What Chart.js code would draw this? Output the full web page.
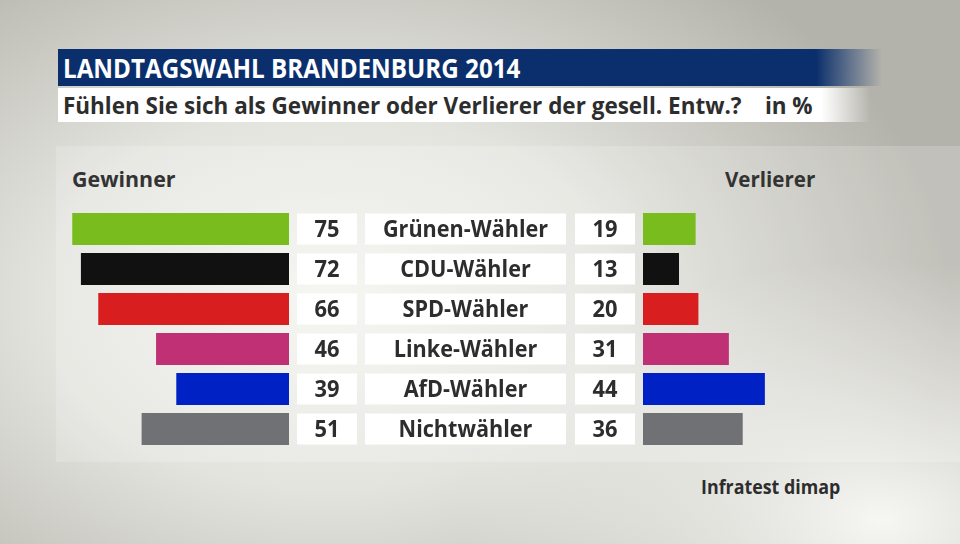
<!DOCTYPE html>
<html>
<head>
<meta charset="utf-8">
<script src="https://cdn.jsdelivr.net/npm/chart.js@4/dist/chart.umd.min.js"></script>
<style>
  html, body { margin: 0; padding: 0; }
  body {
    width: 960px; height: 544px; overflow: hidden; position: relative;
    font-family: "Open Sans", "Noto Sans", sans-serif;
    background:
      radial-gradient(ellipse 420px 260px at 880px 520px, rgba(250,250,247,0.95), rgba(250,250,247,0) 100%),
      radial-gradient(ellipse 620px 420px at 330px 300px, #f4f4f0 0%, #e4e4df 45%, #b4b3ab 100%);
    background-color: #b0afa7;
  }
  .panel {
    position: absolute; left: 56px; top: 146px; width: 904px; height: 316px;
    background: rgba(255,255,255,0.18);
  }
  .titlebar {
    position: absolute; left: 58px; top: 49px; width: 824px; height: 37px;
    background: linear-gradient(to right, #0b2f6c 0, #0b2f6c 92%, rgba(11,47,108,0) 100%);
  }
  .subbar {
    position: absolute; left: 58px; top: 88px; width: 812px; height: 34px;
    background: linear-gradient(to right, #fff 0, #fff 94%, rgba(255,255,255,0) 100%);
  }
  .txt { position: absolute; white-space: nowrap; transform-origin: 0 50%; }
  #title { left: 63px; top: 50px; line-height: 36px; font-size: 27px; font-weight: 700; color: #fff; }
  #subtitle { left: 63px; top: 88px; line-height: 34px; font-size: 24px; font-weight: 700; color: #2d2d2d; }
  #gew { left: 72px; top: 164px; line-height: 30px; font-size: 21px; font-weight: 700; color: #333; }
  #ver { left: 725px; top: 164px; line-height: 30px; font-size: 21px; font-weight: 700; color: #333; }
  #src { left: 701px; top: 474px; line-height: 26px; font-size: 19px; font-weight: 700; color: #2d2d2d; }
  canvas { position: absolute; left: 0; top: 0; pointer-events: none; }
</style>
</head>
<body>
<div class="panel"></div>
<div class="titlebar"></div>
<div class="subbar"></div>
<div class="txt" id="title">LANDTAGSWAHL BRANDENBURG 2014</div>
<div class="txt" id="subtitle">Fühlen Sie sich als Gewinner oder Verlierer der gesell. Entw.?&nbsp;&nbsp;&nbsp; in %</div>
<div class="txt" id="gew">Gewinner</div>
<div class="txt" id="ver">Verlierer</div>
<div class="txt" id="src">Infratest dimap</div>
<canvas id="leftChart" width="960" height="544"></canvas>
<canvas id="rightChart" width="960" height="544"></canvas>
<script>
const groups = ["Grünen-Wähler", "CDU-Wähler", "SPD-Wähler", "Linke-Wähler", "AfD-Wähler", "Nichtwähler"];
const gewinner = [75, 72, 66, 46, 39, 51];
const verlierer = [19, 13, 20, 31, 44, 36];
const partyColors = ["#79bc1e", "#111111", "#d81e1e", "#bf3075", "#0021c4", "#707174"];

// squeeze the condensed-looking texts to the widths seen in the original
function fitWidth(id, target) {
  const el = document.getElementById(id);
  el.style.transform = "scaleX(" + (target / el.offsetWidth) + ")";
}
fitWidth("title", 457);
fitWidth("subtitle", 750);
fitWidth("gew", 104);
fitWidth("ver", 90);
fitWidth("src", 139);

// white boxes with values and group names, placed next to the left bars
const labelBoxes = {
  id: "labelBoxes",
  afterDatasetsDraw(chart) {
    const ctx = chart.ctx;
    const yScale = chart.scales.y;
    const x0 = chart.chartArea.right;
    const boxH = 31;
    const boxes = [
      { from: 8, to: 68, texts: gewinner, size: 23, sx: 0.95 },
      { from: 76, to: 277, texts: groups, size: 23, sx: 0.94 },
      { from: 286, to: 346, texts: verlierer, size: 23, sx: 0.95 }
    ];
    ctx.save();
    groups.forEach((g, i) => {
      const cy = yScale.getPixelForValue(i);
      boxes.forEach(b => {
        ctx.fillStyle = "#ffffff";
        ctx.fillRect(x0 + b.from, cy - boxH / 2, b.to - b.from, boxH);
        ctx.save();
        ctx.translate(x0 + (b.from + b.to) / 2, cy + 1);
        ctx.scale(b.sx, 1);
        ctx.fillStyle = "#2d2d2d";
        ctx.font = "700 " + b.size + "px 'Open Sans', sans-serif";
        ctx.textAlign = "center";
        ctx.textBaseline = "middle";
        ctx.fillText(String(b.texts[i]), 0, 0);
        ctx.restore();
      });
    });
    ctx.restore();
  }
};

const common = {
  responsive: false,
  animation: false,
  indexAxis: "y",
  plugins: { legend: { display: false }, tooltip: { enabled: false } },
  events: []
};

new Chart(document.getElementById("leftChart"), {
  type: "bar",
  data: {
    labels: groups,
    datasets: [{
      data: gewinner,
      backgroundColor: partyColors,
      barPercentage: 0.8,
      categoryPercentage: 1.0
    }]
  },
  options: Object.assign({}, common, {
    layout: { padding: { left: 0, right: 671, top: 209, bottom: 95 } },
    scales: {
      x: { display: false, reverse: true, min: 0, max: 100 },
      y: { display: false }
    }
  }),
  plugins: [labelBoxes]
});

new Chart(document.getElementById("rightChart"), {
  type: "bar",
  data: {
    labels: groups,
    datasets: [{
      data: verlierer,
      backgroundColor: partyColors,
      barPercentage: 0.8,
      categoryPercentage: 1.0
    }]
  },
  options: Object.assign({}, common, {
    layout: { padding: { left: 643, right: 40, top: 209, bottom: 95 } },
    scales: {
      x: { display: false, min: 0, max: 100 },
      y: { display: false }
    }
  })
});
</script>
</body>
</html>
